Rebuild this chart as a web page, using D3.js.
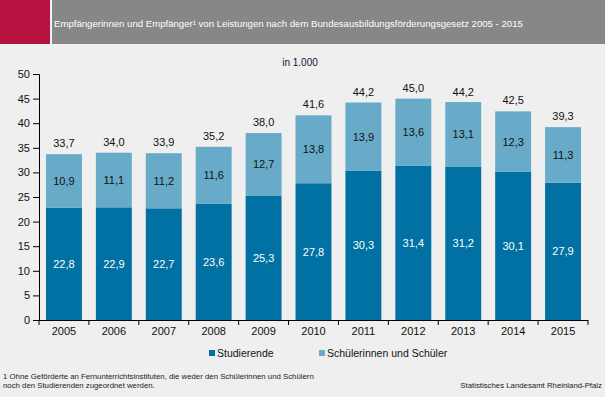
<!DOCTYPE html>
<html><head><meta charset="utf-8">
<script src="https://cdn.jsdelivr.net/npm/d3@7"></script>
<style>body{margin:0;background:#eeefee;}svg{display:block;font-family:"Liberation Sans",Arial,sans-serif;}</style>
</head><body><svg id="c" width="605" height="397"></svg>
<script>
const years = ["2005","2006","2007","2008","2009","2010","2011","2012","2013","2014","2015"];
const studierende = [22.8,22.9,22.7,23.6,25.3,27.8,30.3,31.4,31.2,30.1,27.9];
const schueler = [10.9,11.1,11.2,11.6,12.7,13.8,13.9,13.6,13.1,12.3,11.3];
const totals = [33.7,34.0,33.9,35.2,38.0,41.6,44.2,45.0,44.2,42.5,39.3];
const yTicks = [0,5,10,15,20,25,30,35,40,45,50];
const seriesNames = ["Studierende","Schülerinnen und Schüler"];
const colors = ["#0071a2","#67abc9"];

const svg = d3.select("#c");
const fmt = v => d3.format(".1f")(v).replace(".", ",");

// header
svg.append("rect").attr("x",0).attr("y",0).attr("width",605).attr("height",45).attr("fill","#f4f4f4");
svg.append("rect").attr("x",0).attr("y",0).attr("width",50).attr("height",44).attr("fill","#b5123f");
svg.append("rect").attr("x",52).attr("y",0).attr("width",553).attr("height",44).attr("fill","#878787");
svg.append("text").attr("x",54).attr("y",26.5).attr("fill","#ffffff").attr("font-size",9.6)
  .text("Empfängerinnen und Empfänger¹ von Leistungen nach dem Bundesausbildungsförderungsgesetz 2005 - 2015");

const x = d3.scaleBand().domain(years).range([39,588]).paddingInner(0.28).paddingOuter(0.14);
const y = d3.scaleLinear().domain([0,50]).range([320,74]);

svg.append("text").attr("x",300).attr("y",66).attr("text-anchor","middle").attr("font-size",10).attr("fill","#1a1040").text("in 1.000");

const g = svg.append("g");
years.forEach((yr,i)=>{
  const s = studierende[i], k = schueler[i];
  g.append("rect").attr("x",x(yr)).attr("width",x.bandwidth()).attr("y",y(s)).attr("height",y(0)-y(s)).attr("fill",colors[0]);
  g.append("rect").attr("x",x(yr)).attr("width",x.bandwidth()).attr("y",y(s+k)).attr("height",y(s)-y(s+k)).attr("fill",colors[1]);
  const cx = x(yr)+x.bandwidth()/2;
  g.append("text").attr("x",cx).attr("y",(y(0)+y(s))/2+4).attr("text-anchor","middle").attr("font-size",11).attr("fill","#ffffff").text(fmt(s));
  g.append("text").attr("x",cx).attr("y",(y(s)+y(s+k))/2+4).attr("text-anchor","middle").attr("font-size",11).attr("fill","#111").text(fmt(k));
  g.append("text").attr("x",cx).attr("y",y(totals[i])-7).attr("text-anchor","middle").attr("font-size",11).attr("fill","#111").text(fmt(totals[i]));
});

const yAxis = svg.append("g").attr("transform","translate(39,0)")
  .call(d3.axisLeft(y).tickValues(yTicks).tickSize(6).tickPadding(3));
const xAxis = svg.append("g").attr("transform","translate(0,320)")
  .call(d3.axisBottom(x).tickSize(0).tickPadding(7));
const edges = years.map(yr => x(yr) - x.step()*x.paddingInner()/2).concat([588]);
xAxis.selectAll(".edge").data(edges).enter().append("line").attr("class","edge")
  .attr("x1",d=>d).attr("x2",d=>d).attr("y1",0).attr("y2",5).attr("stroke","#000");
xAxis.select(".domain").attr("d","M39,0.5H588");
[yAxis,xAxis].forEach(a=>{a.selectAll("text").attr("font-size",11).attr("fill","#111").attr("font-family","Liberation Sans, Arial, sans-serif");a.selectAll("path,line").attr("stroke","#000");});

// legend
const lg = svg.append("g");
const lx = [209,319];
seriesNames.forEach((n,i)=>{
  lg.append("rect").attr("x",lx[i]).attr("y",350).attr("width",6).attr("height",6).attr("fill",colors[i]);
  lg.append("text").attr("x",lx[i]+8).attr("y",357).attr("font-size",10.5).attr("fill","#111").text(n);
});

// footnotes
svg.append("text").attr("x",3).attr("y",379).attr("font-size",7.8).attr("fill","#222").text("1 Ohne Geförderte an Fernunterrichtsinstituten, die weder den Schülerinnen und Schülern");
svg.append("text").attr("x",3).attr("y",388).attr("font-size",7.8).attr("fill","#222").text("noch den Studierenden zugeordnet werden.");
svg.append("text").attr("x",602).attr("y",388).attr("text-anchor","end").attr("font-size",7.8).attr("fill","#222").text("Statistisches Landesamt Rheinland-Pfalz");
</script></body></html>
